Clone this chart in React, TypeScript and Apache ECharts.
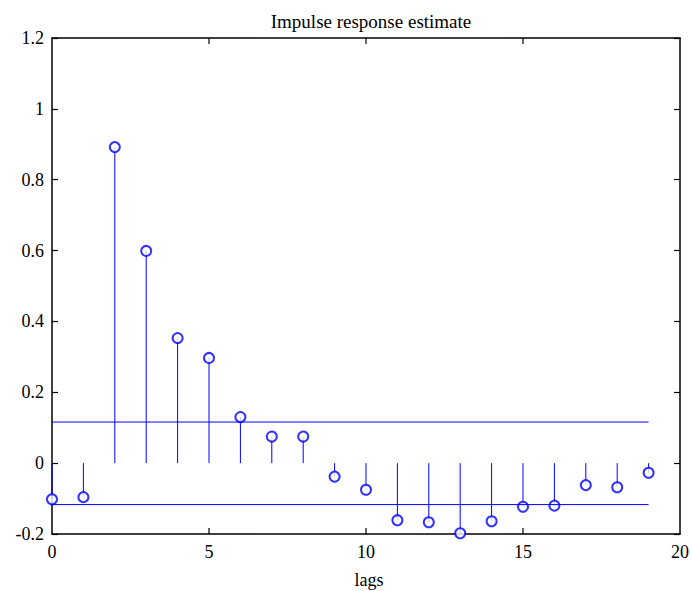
import React, { useEffect, useRef } from "react";
import * as echarts from "echarts";

const lags = [0, 1, 2, 3, 4, 5, 6, 7, 8, 9, 10, 11, 12, 13, 14, 15, 16, 17, 18, 19];
const impulse = [
  -0.102, -0.096, 0.892, 0.599, 0.353, 0.297, 0.13, 0.075, 0.075, -0.038,
  -0.075, -0.161, -0.167, -0.198, -0.164, -0.123, -0.12, -0.062, -0.068, -0.027,
];
const confUpper = 0.116;
const confLower = -0.117;
const confRange = [0, 19];
const xTicks = [5, 10, 15];
const yRange = [-0.2, 1.2];

const FONT = "Liberation Serif";
const BLUE = "#0000ff";
const TICK_LEN = 6;

export default function App() {
  const ref = useRef<HTMLDivElement>(null);
  useEffect(() => {
    if (!ref.current) return;
    const chart = echarts.init(ref.current, null, { renderer: "svg" });
    const pts = lags.map((l, i) => [l, impulse[i]]);
    const mkAxis = () => ({
      type: "value" as const,
      axisLine: { show: true, onZero: false, lineStyle: { color: "#000", width: 1.5 } },
      axisTick: { show: true, inside: true, length: TICK_LEN, lineStyle: { color: "#000", width: 1.2 } },
      splitLine: { show: false },
    });
    chart.setOption({
      animation: false,
      backgroundColor: "#fff",
      textStyle: { fontFamily: FONT },
      title: [
        {
          text: "Impulse response estimate",
          left: 366,
          top: 7,
          textAlign: "center",
          textStyle: { fontFamily: FONT, fontSize: 19, fontWeight: "normal", color: "#000" },
        },
        {
          text: "lags",
          left: 364,
          top: 566,
          textAlign: "center",
          textStyle: { fontFamily: FONT, fontSize: 18, fontWeight: "normal", color: "#000" },
        },
      ],
      grid: { left: 52, right: 12, top: 38, bottom: 57, containLabel: false },
      xAxis: [
        {
          ...mkAxis(),
          position: "bottom",
          min: 0,
          max: 20,
          interval: 5,
          axisTick: { show: false },
          axisLabel: { fontFamily: FONT, fontSize: 18, color: "#000", margin: 9 },
        },
        {
          ...mkAxis(),
          position: "top",
          min: 0,
          max: 20,
          interval: 5,
          axisTick: { show: false },
          axisLabel: { show: false },
        },
      ],
      yAxis: [
        {
          ...mkAxis(),
          position: "left",
          min: yRange[0],
          max: yRange[1],
          interval: 0.2,
          axisLabel: { fontFamily: FONT, fontSize: 18, color: "#000", margin: 8 },
        },
        {
          ...mkAxis(),
          position: "right",
          min: yRange[0],
          max: yRange[1],
          interval: 0.2,
          axisLabel: { show: false },
        },
      ],
      series: [
        {
          type: "custom",
          data: xTicks.map((t) => [t, 0]),
          clip: false,
          silent: true,
          renderItem: (params: any, api: any) => {
            const b = api.coord([api.value(0), yRange[0]]);
            const t = api.coord([api.value(0), yRange[1]]);
            const st = { stroke: "#000", lineWidth: 1.2 };
            return {
              type: "group",
              children: [
                { type: "line", shape: { x1: b[0], y1: b[1], x2: b[0], y2: b[1] - TICK_LEN }, style: st },
                { type: "line", shape: { x1: t[0], y1: t[1], x2: t[0], y2: t[1] + TICK_LEN }, style: st },
              ],
            };
          },
        },
        {
          type: "line",
          data: confRange.map((x) => [x, confUpper]),
          showSymbol: false,
          symbol: "none",
          lineStyle: { color: BLUE, width: 1 },
          silent: true,
        },
        {
          type: "line",
          data: confRange.map((x) => [x, confLower]),
          showSymbol: false,
          symbol: "none",
          lineStyle: { color: BLUE, width: 1 },
          silent: true,
        },
        {
          type: "custom",
          data: pts,
          clip: false,
          renderItem: (params: any, api: any) => {
            const p0 = api.coord([api.value(0), 0]);
            const p1 = api.coord([api.value(0), api.value(1)]);
            return {
              type: "line",
              shape: { x1: p0[0], y1: p0[1], x2: p1[0], y2: p1[1] },
              style: { stroke: BLUE, lineWidth: 1 },
            };
          },
        },
        {
          type: "scatter",
          data: pts,
          clip: false,
          symbol: "emptyCircle",
          symbolSize: 10,
          itemStyle: { color: BLUE, borderColor: BLUE, borderWidth: 1.1 },
        },
      ],
    });
    return () => chart.dispose();
  }, []);
  return (
    <div
      ref={ref}
      style={{ position: "fixed", left: 0, top: 0, width: 692, height: 591, background: "#fff" }}
    />
  );
}
